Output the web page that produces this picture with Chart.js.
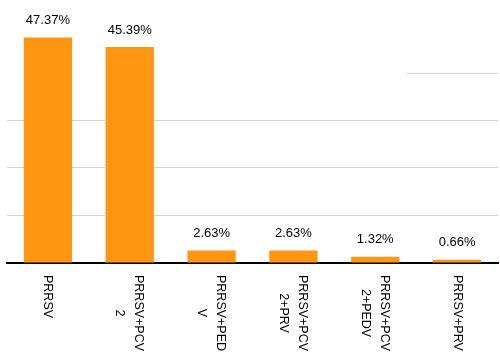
<!DOCTYPE html>
<html>
<head>
<meta charset="utf-8">
<script src="https://cdn.jsdelivr.net/npm/chart.js@4/dist/chart.umd.min.js"></script>
<style>
html,body{margin:0;padding:0;background:#fff;}
#wrap{width:500px;height:360px;position:relative;}
</style>
</head>
<body>
<div id="wrap"><canvas id="c" width="500" height="360"></canvas></div>
<script>
const categories = ["PRRSV", "PRRSV+PCV\n2", "PRRSV+PED\nV", "PRRSV+PCV\n2+PRV", "PRRSV+PCV\n2+PEDV", "PRRSV+PRV"];
const values = [47.37, 45.39, 2.63, 2.63, 1.32, 0.66];
const valueLabels = ["47.37%", "45.39%", "2.63%", "2.63%", "1.32%", "0.66%"];
const yTicks = [0, 10, 20, 30, 40, 50];

const FONT = '"Liberation Sans", Arial, sans-serif';

const labelPlugin = {
  id: 'labels',
  afterDraw(chart) {
    const ctx = chart.ctx;
    const x = chart.scales.x, y = chart.scales.y;
    const meta = chart.getDatasetMeta(0);
    ctx.save();
    // partial gridline at 40
    ctx.strokeStyle = '#d4d4d4';
    ctx.lineWidth = 1;
    const gy = Math.round(y.getPixelForValue(40)) + 0.5;
    ctx.beginPath();
    ctx.moveTo(407, gy);
    ctx.lineTo(chart.chartArea.right, gy);
    ctx.stroke();
    // value labels
    ctx.fillStyle = '#000';
    ctx.font = '13px ' + FONT;
    ctx.textAlign = 'center';
    ctx.textBaseline = 'middle';
    meta.data.forEach((bar, i) => {
      ctx.fillText(valueLabels[i], bar.x, bar.y - 17);
    });
    // category labels rotated clockwise
    ctx.font = '12.5px ' + FONT;
    const top = chart.chartArea.bottom + 12;
    categories.forEach((lab, i) => {
      const lines = lab.split('\n');
      const cx = x.getPixelForValue(i);
      const maxW = Math.max(...lines.map(l => ctx.measureText(l).width));
      const offs = lines.length === 1 ? [0] : [9, -10];
      lines.forEach((ln, j) => {
        ctx.save();
        ctx.translate(cx + offs[j], top + maxW / 2);
        ctx.rotate(Math.PI / 2);
        ctx.textAlign = 'center';
        ctx.textBaseline = 'middle';
        ctx.fillText(ln, 0, 0);
        ctx.restore();
      });
    });
    ctx.restore();
  }
};

new Chart(document.getElementById('c'), {
  type: 'bar',
  data: {
    labels: categories,
    datasets: [{
      data: values,
      backgroundColor: '#ff9612',
      borderWidth: 0,
      barPercentage: 0.59,
      categoryPercentage: 1.0
    }]
  },
  options: {
    responsive: false,
    animation: false,
    layout: { padding: { left: 7, right: 2, top: 25, bottom: 97 } },
    plugins: { legend: { display: false }, tooltip: { enabled: false } },
    scales: {
      x: {
        ticks: { display: false },
        grid: { display: false, drawTicks: false },
        border: { display: true, color: '#000', width: 2 }
      },
      y: {
        min: 0, max: 50,
        afterBuildTicks: (s) => { s.ticks = yTicks.map(v => ({ value: v })); },
        ticks: { display: false },
        grid: {
          drawTicks: false,
          color: (c) => (c.tick && (c.tick.value === 50 || c.tick.value === 40 || c.tick.value === 0)) ? 'rgba(0,0,0,0)' : '#d4d4d4',
          lineWidth: 1
        },
        border: { display: false }
      }
    }
  },
  plugins: [labelPlugin]
});
</script>
</body>
</html>
